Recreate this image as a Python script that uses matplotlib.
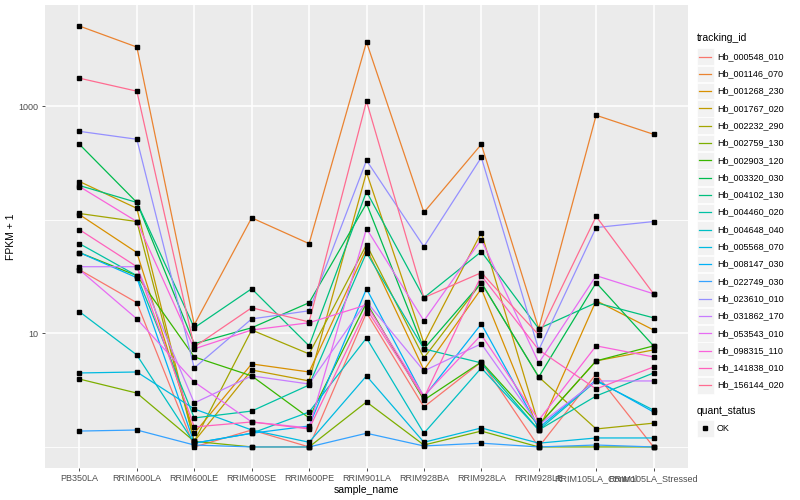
import numpy as np
import matplotlib
matplotlib.use("Agg")
import matplotlib.pyplot as plt
from matplotlib.patches import Rectangle
from matplotlib.lines import Line2D

plt.rcParams['font.family'] = ['Liberation Sans', 'DejaVu Sans']

# sample names (x axis)
samples = ["PB350LA", "RRIM600LA", "RRIM600LE", "RRIM600SE", "RRIM600PE",
           "RRIM901LA", "RRIM928BA", "RRIM928LA", "RRIM928LE",
           "RRIM105LA_Control", "RRIM105LA_Stressed"]

tracking_ids = ["Hb_000548_010", "Hb_001146_070", "Hb_001268_230", "Hb_001767_020",
                "Hb_002232_290", "Hb_002759_130", "Hb_002903_120", "Hb_003320_030",
                "Hb_004102_130", "Hb_004460_020", "Hb_004648_040", "Hb_005568_070",
                "Hb_008147_030", "Hb_022749_030", "Hb_023610_010", "Hb_031862_170",
                "Hb_053543_010", "Hb_098315_110", "Hb_141838_010", "Hb_156144_020"]

# ggplot default hue palette for 20 levels
colors = ["#F8766D", "#EA8331", "#D89000", "#C09B00", "#A3A500", "#7CAE00", "#39B600",
          "#00BB4E", "#00BF7D", "#00C1A3", "#00BFC4", "#00BAE0", "#00B0F6", "#35A2FF",
          "#9590FF", "#C77CFF", "#E76BF3", "#FA62DB", "#FF62BC", "#FF6C91"]

# FPKM + 1 per gene, one value per sample
hb_000548_010 = [36.3, 18.6, 1.0, 1.41, 1.0, 15.2, 2.25, 5.6, 1.0, 4.39, 1.0]
hb_001146_070 = [5070, 3311, 11.9, 104, 61.6, 3664, 116, 461, 11.0, 831, 565]
hb_001268_230 = [111, 51.4, 1.32, 5.38, 4.57, 55.7, 4.76, 24.7, 1.41, 19.4, 10.7]
hb_001767_020 = [217, 126, 1.12, 4.76, 3.81, 261, 8.2, 77.1, 1.56, 5.72, 7.15]
hb_002232_290 = [113.5, 96.4, 1.12, 10.7, 6.59, 60.4, 6.08, 27.9, 4.13, 1.44, 1.62]
hb_002759_130 = [3.96, 2.98, 1.12, 1.0, 1.0, 2.49, 1.04, 1.38, 1.0, 1.0, 1.0]
hb_002903_120 = [51.4, 32.2, 6.20, 4.22, 1.80, 18.6, 2.59, 5.6, 1.56, 5.72, 7.76]
hb_003320_030 = [461, 142, 8.1, 11.2, 18.6, 139, 7.3, 27.9, 4.13, 27.9, 7.76]
hb_004102_130 = [200, 142, 11.2, 24.7, 7.76, 177, 20.6, 52.4, 11.0, 18.6, 13.7]
hb_004460_020 = [61.6, 32.2, 1.80, 2.07, 3.51, 51.4, 7.3, 5.49, 1.41, 2.81, 4.48]
hb_004648_040 = [15.5, 6.45, 1.08, 1.32, 2.03, 9.1, 1.32, 4.96, 1.41, 3.81, 2.11]
hb_005568_070 = [4.48, 4.57, 2.16, 1.41, 1.10, 4.22, 1.10, 1.47, 1.08, 1.20, 1.20]
hb_008147_030 = [51.4, 30.9, 1.08, 1.32, 1.53, 24.7, 2.75, 12.1, 1.47, 3.89, 2.03]
hb_022749_030 = [1.38, 1.41, 1.04, 1.0, 1.0, 1.32, 1.02, 1.08, 1.0, 1.04, 1.0]
hb_023610_010 = [600, 511, 4.96, 13.4, 15.8, 333, 58.0, 354, 7.15, 85.4, 96.4]
hb_031862_170 = [38.6, 38.6, 2.44, 4.22, 3.58, 19.0, 4.67, 8.1, 1.56, 3.81, 3.81]
hb_053543_010 = [36.3, 13.4, 3.73, 1.66, 1.47, 83.6, 12.9, 66.9, 5.49, 32.2, 22.3]
hb_098315_110 = [196, 96.4, 7.30, 10.7, 12.4, 17.8, 2.81, 9.7, 1.72, 7.76, 6.20]
hb_141838_010 = [81.8, 38.6, 1.50, 1.66, 1.44, 16.4, 2.70, 32.2, 7.15, 3.24, 5.06]
hb_156144_020 = [1762, 1354, 7.60, 16.8, 12.6, 1105, 20.6, 34.2, 9.7, 107, 22.3]

series = [hb_000548_010, hb_001146_070, hb_001268_230, hb_001767_020, hb_002232_290,
          hb_002759_130, hb_002903_120, hb_003320_030, hb_004102_130, hb_004460_020,
          hb_004648_040, hb_005568_070, hb_008147_030, hb_022749_030, hb_023610_010,
          hb_031862_170, hb_053543_010, hb_098315_110, hb_141838_010, hb_156144_020]

fig = plt.figure(figsize=(8, 5), dpi=100)
ax = fig.add_axes([45 / 800, 32 / 500, 643 / 800, 463 / 500])
ax.set_facecolor("#EBEBEB")

x = np.arange(len(samples))
for vals, col in zip(series, colors):
    ax.plot(x, vals, color=col, lw=0.9, zorder=3)
for vals in series:
    ax.plot(x, vals, 's', color="black", ms=2.2, zorder=4)

ax.set_yscale("log")
ax.set_yticks([10, 1000])
ax.set_yticklabels(["10", "1000"])
ax.set_yticks([1, 100], minor=True)
ax.yaxis.set_minor_formatter(matplotlib.ticker.NullFormatter())
ax.set_xticks(x)
ax.set_xticklabels(samples)

# ggplot-style 5% expansion in log space
all_vals = np.concatenate([np.log10(s) for s in series])
lo, hi = all_vals.min(), all_vals.max()
pad = 0.05 * (hi - lo)
ax.set_ylim(10 ** (lo - pad), 10 ** (hi + pad))
ax.set_xlim(-0.6, len(samples) - 0.4)

ax.grid(True, which="major", color="white", lw=1.1, zorder=0)
ax.grid(True, which="minor", axis="y", color="white", lw=0.6, zorder=0)
ax.set_axisbelow(True)
for sp in ax.spines.values():
    sp.set_visible(False)
ax.tick_params(axis="both", which="major", length=2.5, width=0.6, color="#333333",
               labelsize=6.5, labelcolor="#4D4D4D", pad=2)
ax.tick_params(axis="y", which="minor", length=0)

ax.set_xlabel("sample_name", fontsize=7.5, labelpad=1)
ax.set_ylabel("FPKM + 1", fontsize=7.5, labelpad=2)

# legends drawn in pixel space
lg = fig.add_axes([0, 0, 1, 1])
lg.set_xlim(0, 800)
lg.set_ylim(500, 0)
lg.axis("off")

lg.text(697, 38, "tracking_id", fontsize=7.5, va="center", ha="left")
y0 = 56.5
step = 17.3
for i, (name, col) in enumerate(zip(tracking_ids, colors)):
    yy = y0 + i * step
    lg.add_patch(Rectangle((697, yy - 8.3), 16.6, 16.6, facecolor="#F2F2F2",
                           edgecolor="white", lw=0.5))
    lg.add_line(Line2D([699, 711], [yy, yy], color=col, lw=0.9))
    lg.text(717, yy, name, fontsize=6.5, va="center", ha="left")

lg.text(697, 411, "quant_status", fontsize=7.5, va="center", ha="left")
lg.add_patch(Rectangle((697, 420), 16.6, 16.6, facecolor="#F2F2F2", edgecolor="white", lw=0.5))
lg.plot([705.3], [428.3], 's', color="black", ms=2.2)
lg.text(717, 428.3, "OK", fontsize=6.5, va="center", ha="left")

fig.savefig("out.png", dpi=100)
